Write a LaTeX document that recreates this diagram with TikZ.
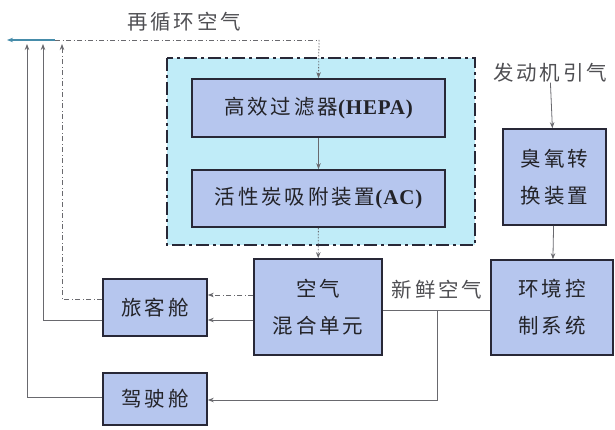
\documentclass[tikz,border=0pt]{standalone}
\usepackage{fontspec}
\setmainfont{Noto Sans CJK SC}[LetterSpace=14]
\newfontfamily\lat{Liberation Serif}[LetterSpace=4]
\usetikzlibrary{arrows.meta}
\definecolor{boxfill}{RGB}{182,198,238}
\definecolor{boxline}{RGB}{40,40,55}
\definecolor{grpfill}{RGB}{192,236,248}
\definecolor{wire}{RGB}{105,105,110}
\definecolor{teal}{RGB}{70,140,170}
\definecolor{txt}{RGB}{35,35,40}
\tikzset{
  blk/.style={draw=boxline,line width=1.6pt,fill=boxfill,inner sep=0pt,align=center,
    text=txt,font=\fontsize{20.5}{37}\selectfont},
  lbl/.style={text=txt!80,font=\fontsize{20.5}{37}\selectfont,inner sep=0pt},
  wireln/.style={draw=wire,line width=0.8pt},
  tip/.style={-{Stealth[length=6pt,width=4.5pt]}},
  dd/.style={dash pattern=on 5pt off 2.5pt on 1pt off 2.5pt},
  dot/.style={dash pattern=on 1.5pt off 1.5pt},
}
\begin{document}
\begin{tikzpicture}[x=1pt,y=-1pt]
\useasboundingbox (0,0) rectangle (615,430);
% group
\path[fill=grpfill,draw=boxline,line width=1.8pt,dash pattern=on 13pt off 4pt on 3pt off 4pt]
  (167,58) rectangle (475,245);
% nodes
\node[blk,minimum width=253pt,minimum height=58pt] (hepa) at (318.5,108) {高效过滤器{\lat\bfseries\fontsize{21}{37}\selectfont(HEPA)}};
\node[blk,minimum width=253pt,minimum height=57pt] (ac) at (318.5,198.5) {活性炭吸附装置{\lat\bfseries\fontsize{21}{37}\selectfont(AC)}};
\node[blk,minimum width=128pt,minimum height=96pt] (mix) at (318,307) {空气\\混合单元};
\node[blk,minimum width=122pt,minimum height=95pt] (ecs) at (552,307.5) {环境控\\制系统};
\node[blk,minimum width=103pt,minimum height=96pt] (oz) at (554.5,177) {臭氧转\\换装置};
\node[blk,minimum width=104pt,minimum height=57pt] (cabin) at (155,307.5) {旅客舱};
\node[blk,minimum width=104pt,minimum height=52pt] (cock) at (155,399) {驾驶舱};
\node[lbl] (eng) at (550,73) {发动机引气};
\node[lbl] (rec) at (184,22) {再循环空气};
\node[lbl] (fresh) at (437,290) {新鲜空气};
% coordinates
\coordinate (tr) at (319,40);
\coordinate (tm) at (55,40);
\coordinate (tl) at (7,40);
\coordinate (v1) at (62,44);
\coordinate (v2) at (43,44);
\coordinate (v3) at (27,44);
\coordinate (br) at (437,310);
% recirculation top
\draw[wireln,dd] (tm) -- (tr);
\draw[wireln,dot,tip] (tr) -- (hepa.north);
\draw[draw=teal,line width=1.2pt,tip] (tm) -- (tl);
% internal
\draw[wireln,tip] (hepa) -- (ac);
\draw[wireln,dot,tip] (ac) -- (mix);
\draw[wireln,tip] (eng) -- (oz);
\draw[wireln,tip] (oz) -- (ecs);
% fresh air
\draw[wireln] (ecs.west |- br) -- (mix.east |- br);
\draw[wireln,tip] (br) |- (cock.east |- 0,400);
% mix to cabin
\draw[wireln,dd,tip] (mix.west |- 0,295) -- (cabin.east |- 0,295);
\draw[wireln,tip] (mix.west |- 0,320) -- (cabin.east |- 0,320);
% returns
\draw[wireln,dd,tip] (cabin.west |- 0,299) -| (v1);
\draw[wireln,tip] (cabin.west |- 0,320) -| (v2);
\draw[wireln,tip] (cock.west |- 0,397) -| (v3);
\end{tikzpicture}
\end{document}
